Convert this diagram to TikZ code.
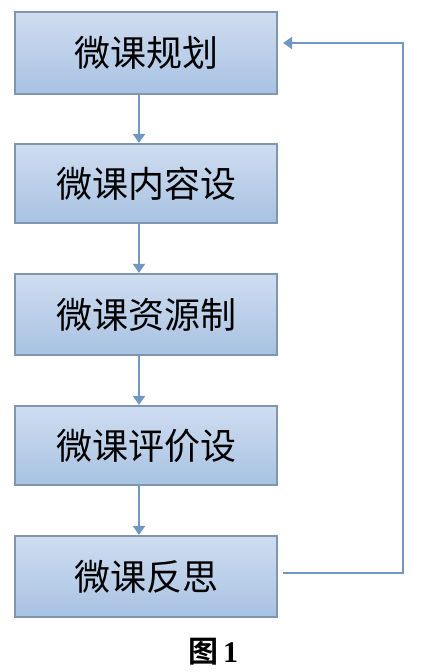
\documentclass[tikz,border=0pt]{standalone}
\usepackage{fontspec}
\newfontfamily\cjk{Noto Sans CJK SC}
\newfontfamily\cjkb{Noto Sans CJK SC Bold}
\newfontfamily\capserif{Liberation Serif}
\usetikzlibrary{arrows.meta}
\definecolor{boxedge}{HTML}{7F95B0}
\definecolor{boxtop}{HTML}{CFDDF0}
\definecolor{boxbot}{HTML}{A8C2E2}
\definecolor{linkblue}{HTML}{7297C2}
\begin{document}
\begin{tikzpicture}[x=1pt,y=-1pt,
  stepbox/.style={draw=boxedge, line width=2.2pt, top color=boxtop, bottom color=boxbot,
    minimum width=262pt, inner sep=0pt, font=\cjk\fontsize{36}{36}\selectfont, text=black},
  link/.style={draw=linkblue, line width=2.2pt, -{Triangle[width=12pt,length=9pt]}}]
\useasboundingbox (0,0) rectangle (426,672);
\node[stepbox, minimum height=82pt] (b1) at (146,53) {微课规划};
\node[stepbox, minimum height=79pt] (b2) at (146,183.5) {微课内容设};
\node[stepbox, minimum height=81pt] (b3) at (146,314.5) {微课资源制};
\node[stepbox, minimum height=79pt] (b4) at (146,445.5) {微课评价设};
\node[stepbox, minimum height=81pt] (b5) at (146,576.5) {微课反思};
\node[font=\cjkb\fontsize{30}{30}\selectfont] (cap) at (213,652) {图\,{\capserif\bfseries 1}};
\draw[link] ([xshift=-7pt]b1.south) -- ([xshift=-7pt]b2.north);
\draw[link] ([xshift=-7pt]b2.south) -- ([xshift=-7pt]b3.north);
\draw[link] ([xshift=-7pt]b3.south) -- ([xshift=-7pt]b4.north);
\draw[link] ([xshift=-7pt]b4.south) -- ([xshift=-7pt]b5.north);
\coordinate (r1) at (403,573);
\coordinate (r2) at (403,43);
\draw[link] ([xshift=5pt]b5.east |- r1) -- (r1) -- (r2) -- ([xshift=5pt]b1.east |- r2);
\end{tikzpicture}
\end{document}
